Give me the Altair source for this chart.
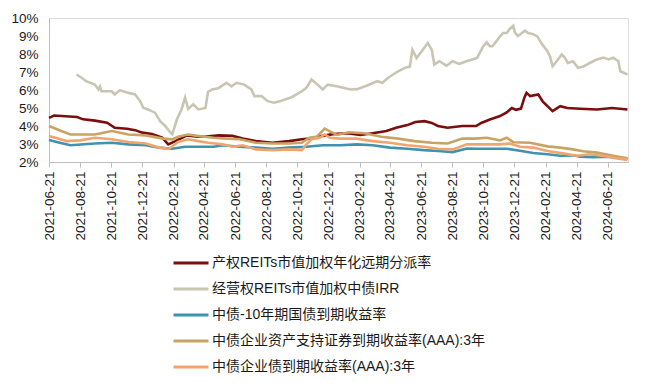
import altair as alt
import pandas as pd

SERIES = [
    "产权REITs市值加权年化远期分派率",
    "经营权REITs市值加权中债IRR",
    "中债-10年期国债到期收益率",
    "中债企业资产支持证券到期收益率(AAA):3年",
    "中债企业债到期收益率(AAA):3年",
]
COLORS = ["#7B0D0D", "#C8C6B3", "#3E94AE", "#C9A363", "#F2A46F"]

red_dates = ["2021-06-21", "2021-07-01", "2021-08-15", "2021-08-27", "2021-09-19", "2021-10-13",
             "2021-10-28", "2021-11-21", "2021-12-07", "2021-12-21", "2022-01-09", "2022-01-29",
             "2022-02-10", "2022-02-24", "2022-03-19", "2022-04-08", "2022-04-24", "2022-05-21",
             "2022-06-16", "2022-07-06", "2022-08-01", "2022-09-02", "2022-10-05", "2022-10-30",
             "2022-11-13", "2022-12-10", "2022-12-30", "2023-01-27", "2023-02-22", "2023-03-18",
             "2023-04-14", "2023-05-03", "2023-05-25", "2023-06-10", "2023-06-28", "2023-07-12",
             "2023-07-24", "2023-08-12", "2023-09-10", "2023-10-07", "2023-10-17", "2023-11-03",
             "2023-11-23", "2023-12-06", "2023-12-16", "2023-12-24", "2024-01-03", "2024-01-10",
             "2024-01-14", "2024-01-21", "2024-02-06", "2024-02-15", "2024-03-05", "2024-03-20",
             "2024-04-03", "2024-04-28", "2024-05-31", "2024-06-30", "2024-07-30"]
red_vals = [4.45, 4.58, 4.50, 4.37, 4.30, 4.18,
            3.90, 3.85, 3.77, 3.63, 3.55, 3.35,
            2.98, 3.16, 3.48, 3.40, 3.42, 3.48,
            3.45, 3.30, 3.16, 3.07, 3.16, 3.26,
            3.30, 3.45, 3.55, 3.60, 3.50, 3.60,
            3.72, 3.90, 4.05, 4.22, 4.27, 4.17,
            4.00, 3.90, 4.00, 4.00, 4.17, 4.36,
            4.55, 4.75, 5.00, 4.90, 4.97, 5.60,
            5.84, 5.66, 5.75, 5.35, 4.83, 5.10,
            5.00, 4.96, 4.92, 5.00, 4.92]

gray_dates = ["2021-08-14", "2021-08-24", "2021-09-02", "2021-09-19", "2021-09-26", "2021-09-29",
              "2021-10-02", "2021-10-22", "2021-10-28", "2021-11-07", "2021-11-24", "2021-12-07",
              "2021-12-17", "2021-12-23", "2022-01-01", "2022-01-15", "2022-01-25", "2022-02-04",
              "2022-02-14", "2022-02-18", "2022-02-27", "2022-03-08", "2022-03-15", "2022-03-21",
              "2022-03-31", "2022-04-10", "2022-04-24", "2022-04-29", "2022-05-07", "2022-05-19",
              "2022-06-04", "2022-06-14", "2022-06-24", "2022-07-09", "2022-07-23", "2022-07-29",
              "2022-08-12", "2022-08-24", "2022-09-06", "2022-09-20", "2022-10-10", "2022-10-30",
              "2022-11-08", "2022-11-18", "2022-11-30", "2022-12-10", "2022-12-20", "2023-01-09",
              "2023-02-02", "2023-02-16", "2023-03-07", "2023-03-27", "2023-04-06", "2023-04-17",
              "2023-04-27", "2023-05-07", "2023-05-20", "2023-05-30", "2023-06-04", "2023-06-12",
              "2023-06-22", "2023-07-04", "2023-07-12", "2023-07-17", "2023-07-27", "2023-08-10",
              "2023-08-22", "2023-09-04", "2023-09-18", "2023-09-30", "2023-10-09", "2023-10-21",
              "2023-10-28", "2023-11-03", "2023-11-08", "2023-11-23", "2023-11-29", "2023-12-06",
              "2023-12-12", "2023-12-19", "2023-12-22", "2023-12-28", "2024-01-05", "2024-01-11",
              "2024-01-17", "2024-01-27", "2024-02-04", "2024-02-14", "2024-02-24", "2024-02-29",
              "2024-03-05", "2024-03-13", "2024-03-23", "2024-03-29", "2024-04-04", "2024-04-14",
              "2024-04-24", "2024-05-04", "2024-05-17", "2024-05-31", "2024-06-13", "2024-06-23",
              "2024-07-02", "2024-07-12", "2024-07-16", "2024-07-30"]
gray_vals = [6.86, 6.68, 6.49, 6.30, 6.03, 6.20,
             5.93, 5.93, 5.75, 5.99, 5.84, 5.75,
             5.38, 5.01, 4.92, 4.74, 4.27, 4.00,
             3.65, 3.55, 4.37, 4.92, 5.57, 4.95,
             5.20, 4.92, 5.00, 5.90, 6.03, 6.10,
             6.40, 6.20, 6.40, 6.30, 6.03, 5.66,
             5.66, 5.38, 5.29, 5.40, 5.60, 5.93,
             6.12, 6.58, 6.30, 6.03, 6.30, 6.20,
             6.03, 6.05, 6.25, 6.49, 6.40, 6.67,
             6.86, 7.04, 7.23, 7.30, 8.24, 7.78,
             8.14, 8.61, 8.24, 7.41, 7.60, 7.35,
             7.60, 7.45, 7.60, 7.69, 7.78, 8.43,
             8.65, 8.43, 8.43, 8.98, 9.17, 9.17,
             9.39, 9.57, 9.20, 9.00, 9.17, 9.30,
             9.17, 9.10, 8.98, 8.52, 8.15, 7.87,
             7.32, 7.60, 7.97, 7.80, 7.50, 7.60,
             7.23, 7.30, 7.50, 7.70, 7.80, 7.70,
             7.80, 7.60, 7.04, 6.86]

teal_dates = ["2021-06-21", "2021-07-12", "2021-08-02", "2021-09-19", "2021-10-22", "2021-11-24",
              "2021-12-28", "2022-01-23", "2022-02-18", "2022-03-15", "2022-04-08", "2022-05-10",
              "2022-05-28", "2022-06-30", "2022-08-01", "2022-09-02", "2022-10-05", "2022-11-08",
              "2022-12-10", "2023-01-13", "2023-02-15", "2023-03-18", "2023-04-21", "2023-05-25",
              "2023-06-26", "2023-07-24", "2023-08-22", "2023-09-19", "2023-10-11", "2023-11-08",
              "2023-12-06", "2024-01-01", "2024-01-27", "2024-02-24", "2024-03-20", "2024-04-14",
              "2024-04-28", "2024-05-23", "2024-06-21", "2024-07-16", "2024-07-30"]
teal_vals = [3.22, 3.07, 2.93, 3.03, 3.07, 2.98,
             2.93, 2.80, 2.74, 2.85, 2.85, 2.85,
             2.93, 2.85, 2.80, 2.74, 2.80, 2.85,
             2.93, 2.93, 2.98, 2.93, 2.80, 2.74,
             2.66, 2.61, 2.55, 2.75, 2.74, 2.74,
             2.74, 2.63, 2.50, 2.43, 2.35, 2.37,
             2.30, 2.26, 2.30, 2.24, 2.17]

gold_dates = ["2021-06-21", "2021-07-15", "2021-08-02", "2021-09-19", "2021-10-22", "2021-11-24",
              "2021-12-28", "2022-01-31", "2022-02-18", "2022-03-01", "2022-03-21", "2022-04-08",
              "2022-05-10", "2022-06-04", "2022-06-30", "2022-08-01", "2022-09-02", "2022-10-05",
              "2022-10-30", "2022-11-14", "2022-11-28", "2022-12-14", "2022-12-24", "2023-01-07",
              "2023-01-30", "2023-03-02", "2023-04-04", "2023-05-07", "2023-06-08", "2023-07-12",
              "2023-08-12", "2023-09-10", "2023-10-05", "2023-10-28", "2023-11-23", "2023-12-06",
              "2023-12-19", "2024-01-21", "2024-02-24", "2024-03-20", "2024-04-14", "2024-05-04",
              "2024-05-31", "2024-07-02", "2024-07-30"]
gold_vals = [4.00, 3.72, 3.53, 3.53, 3.72, 3.53,
             3.48, 3.30, 3.26, 3.40, 3.53, 3.45,
             3.35, 3.30, 3.26, 3.07, 3.03, 3.03,
             3.07, 3.35, 3.40, 3.85, 3.70, 3.50,
             3.65, 3.60, 3.40, 3.30, 3.16, 3.07,
             3.03, 3.30, 3.30, 3.35, 3.20, 3.35,
             3.10, 3.07, 2.87, 2.80, 2.70, 2.60,
             2.52, 2.35, 2.20]

orange_dates = ["2021-06-21", "2021-07-26", "2021-08-21", "2021-09-19", "2021-10-22", "2021-11-24",
                "2021-12-28", "2022-01-23", "2022-02-12", "2022-03-01", "2022-03-21", "2022-04-10",
                "2022-04-30", "2022-05-28", "2022-06-16", "2022-07-06", "2022-08-01", "2022-09-02",
                "2022-10-05", "2022-10-30", "2022-11-08", "2022-11-18", "2022-12-04", "2022-12-14",
                "2022-12-24", "2023-01-13", "2023-02-15", "2023-03-18", "2023-04-21", "2023-05-25",
                "2023-06-26", "2023-07-24", "2023-08-22", "2023-09-19", "2023-10-13", "2023-11-23",
                "2023-12-12", "2024-01-01", "2024-01-27", "2024-02-24", "2024-03-25", "2024-04-22",
                "2024-05-17", "2024-06-13", "2024-07-10", "2024-07-30"]
orange_vals = [3.44, 3.16, 3.20, 3.35, 3.26, 3.11,
               3.03, 2.80, 2.74, 3.11, 3.26, 3.16,
               3.07, 2.98, 2.85, 2.93, 2.70, 2.66,
               2.70, 2.66, 2.98, 3.26, 3.35, 3.53,
               3.35, 3.30, 3.30, 3.16, 3.07, 2.93,
               2.85, 2.74, 2.70, 2.98, 2.98, 2.98,
               3.03, 2.85, 2.80, 2.61, 2.48, 2.35,
               2.43, 2.33, 2.20, 2.12]

TICK_DATES = ["2021-06-21", "2021-08-21", "2021-10-21", "2021-12-21", "2022-02-21", "2022-04-21",
              "2022-06-21", "2022-08-21", "2022-10-21", "2022-12-21", "2023-02-21", "2023-04-21",
              "2023-06-21", "2023-08-21", "2023-10-21", "2023-12-21", "2024-02-21", "2024-04-21",
              "2024-06-21"]
X_DOMAIN = ["2021-06-21", "2024-07-31"]
Y_TICKS = [2, 3, 4, 5, 6, 7, 8, 9, 10]

all_dates = [red_dates, gray_dates, teal_dates, gold_dates, orange_dates]
all_vals = [red_vals, gray_vals, teal_vals, gold_vals, orange_vals]

frames = []
for i, (name, ds, vs) in enumerate(zip(SERIES, all_dates, all_vals)):
    frames.append(pd.DataFrame({"date": pd.to_datetime(ds), "value": vs, "series": name, "ord": i}))
df = pd.concat(frames, ignore_index=True)


def dt(s):
    y, m, d = (int(p) for p in s.split("-"))
    return alt.DateTime(year=y, month=m, date=d)


FONT = "Liberation Sans, Arial, Noto Sans CJK SC, sans-serif"

chart = alt.Chart(df).mark_line(strokeWidth=2.6).encode(
    x=alt.X(
        "date:T",
        scale=alt.Scale(domain=[dt(s) for s in X_DOMAIN], nice=False),
        axis=alt.Axis(
            values=[dt(s) for s in TICK_DATES],
            format="%Y-%m-%d",
            labelAngle=-90,
            labelFontSize=13.5,
            labelColor="#1a1a1a",
            labelPadding=4,
            tickSize=5,
            tickColor="#BFBFBF",
            domainColor="#BFBFBF",
            grid=False,
            title=None,
            labelOverlap=False,
            labelFont=FONT,
        ),
    ),
    y=alt.Y(
        "value:Q",
        scale=alt.Scale(domain=[2, 10], nice=False, zero=False),
        axis=alt.Axis(
            values=Y_TICKS,
            labelExpr="datum.value + '%'",
            labelFontSize=13.5,
            labelColor="#1a1a1a",
            labelPadding=11,
            ticks=False,
            domainColor="#BFBFBF",
            grid=False,
            title=None,
            labelFont=FONT,
        ),
    ),
    color=alt.Color(
        "series:N",
        scale=alt.Scale(domain=SERIES, range=COLORS),
        legend=alt.Legend(
            title=None,
            orient="none",
            legendX=123,
            legendY=226,
            direction="vertical",
            symbolType="stroke",
            symbolSize=1225,
            symbolStrokeWidth=3,
            labelFontSize=14,
            labelFont=FONT,
            labelColor="#1a1a1a",
            labelOffset=2,
            labelLimit=500,
            rowPadding=0,
            padding=0,
        ),
    ),
    order=alt.Order("ord:Q"),
    detail="series:N",
).properties(
    width=579,
    height=144,
    autosize=alt.AutoSizeParams(type="none"),
    padding={"left": 41, "top": 10, "right": 11, "bottom": 213},
).configure_view(stroke=None).configure(font=FONT)

chart.save("out.html", embed_options={"renderer": "svg", "actions": False})
